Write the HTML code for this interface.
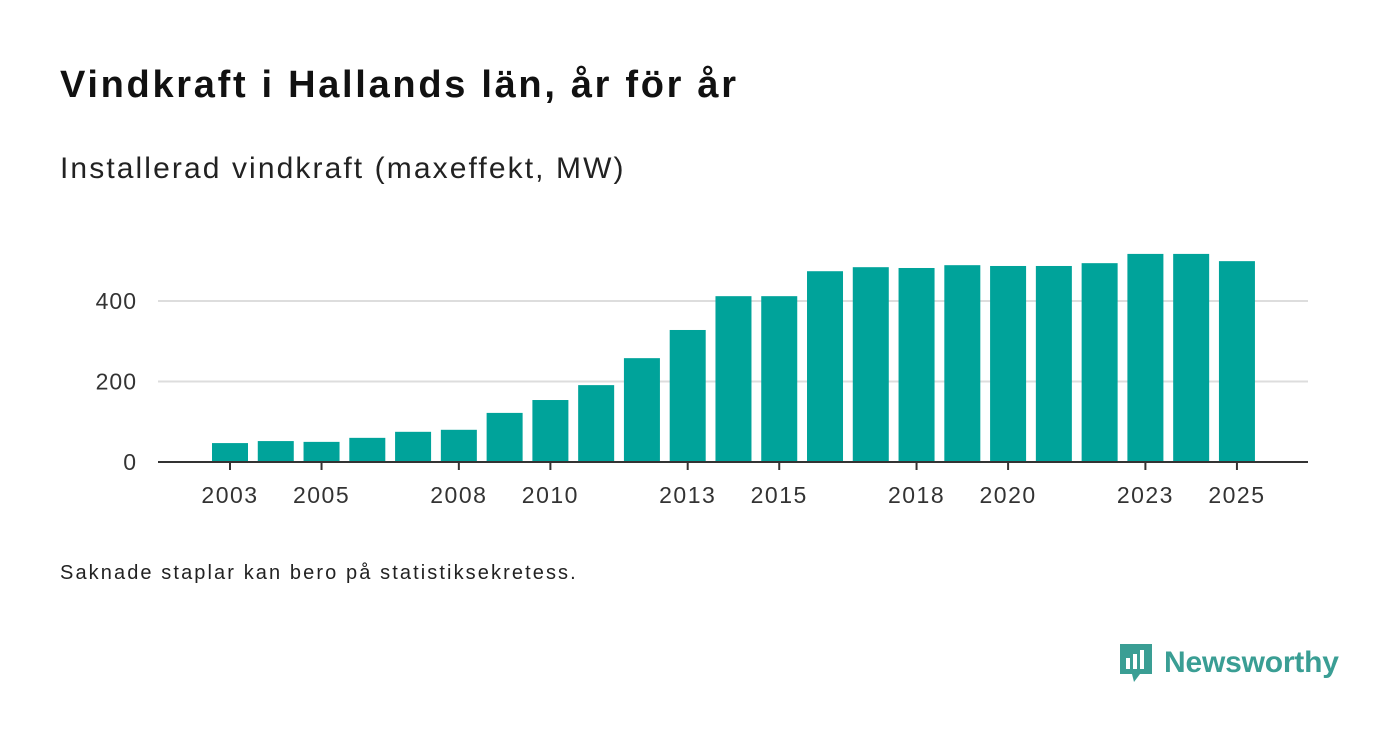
<!DOCTYPE html>
<html><head><meta charset="utf-8"><style>
body{margin:0;width:1400px;height:745px;background:#fff;font-family:"Liberation Sans",sans-serif;overflow:hidden;position:relative}
.t{position:absolute;left:60px;white-space:nowrap;color:#111}
</style></head><body>
<div class="t" style="top:64px;font-size:38px;font-weight:bold;letter-spacing:2.7px">Vindkraft i Hallands län, år för år</div>
<div class="t" style="top:152px;font-size:30px;color:#222;letter-spacing:2.1px">Installerad vindkraft (maxeffekt, MW)</div>
<div class="t" style="top:562px;font-size:20px;color:#222;letter-spacing:2.1px">Saknade staplar kan bero på statistiksekretess.</div>
<div style="position:absolute;left:1118px;top:642px;display:flex;align-items:center;gap:10px">
<svg width="36" height="42"><path d="M2 2h32v30H22l-6 8-2-8H2z" fill="#3a9e94"/><rect x="8" y="16" width="4" height="11" fill="#fff"/><rect x="15" y="12" width="4" height="15" fill="#fff"/><rect x="22" y="8" width="4" height="19" fill="#fff"/></svg>
<span style="font-size:30px;font-weight:bold;color:#3a9e94;letter-spacing:-0.2px">Newsworthy</span></div>
<svg id="c" width="1400" height="745" style="position:absolute;left:0;top:0"></svg>
<script>
const years=[2003,2004,2005,2006,2007,2008,2009,2010,2011,2012,2013,2014,2015,2016,2017,2018,2019,2020,2021,2022,2023,2024,2025];
const values=[47,52,50,60,75,80,122,154,191,258,328,412,412,474,484,482,489,487,487,494,517,517,499];
const yTicks=[0,200,400];
const xTickLabels=[2003,2005,2008,2010,2013,2015,2018,2020,2023,2025];
const svg=document.getElementById('c');const NS='http://www.w3.org/2000/svg';
const x=yr=>230+(yr-2003)*45.77;const y=v=>462-v*0.4025;
function mk(t,a){const e=document.createElementNS(NS,t);for(const k in a)e.setAttribute(k,a[k]);svg.appendChild(e);return e;}
yTicks.forEach(v=>{
 if(v>0){const g=mk('line',{x1:158,x2:1308,y1:y(v),y2:y(v),stroke:'#ddd','stroke-width':2});
 
 }
 const t=mk('text',{x:137,y:y(v)+8,'text-anchor':'end','font-size':23,fill:'#333','font-family':'Liberation Sans','letter-spacing':1});t.textContent=v;
 
 
});
years.forEach((yr,i)=>{
 const b=mk('rect',{x:x(yr)-18,y:y(values[i]),width:36,height:462-y(values[i]),fill:'#00a39a'});
 
 
});
const ax=mk('line',{x1:158,x2:1308,y1:462,y2:462,stroke:'#333','stroke-width':2});


xTickLabels.forEach(yr=>{
 const tk=mk('line',{x1:x(yr),x2:x(yr),y1:462,y2:470,stroke:'#333','stroke-width':2});
 
 
 const t=mk('text',{x:x(yr),y:503,'text-anchor':'middle','font-size':23,fill:'#333','font-family':'Liberation Sans','letter-spacing':1.5});t.textContent=yr;
 
 
});
</script>
</body></html>
